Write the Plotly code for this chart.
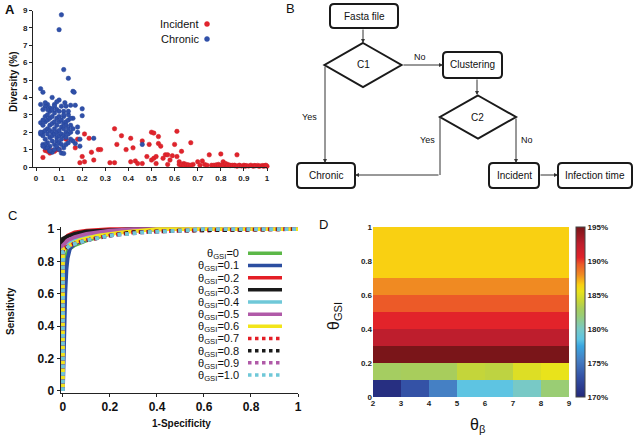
import plotly.graph_objects as go

W, H = 633, 436
FONT = "Liberation Sans"

# ---------------- Panel A data ----------------
chronic_x = [0.11,0.10,0.12,0.14,0.02,0.03,0.16,0.165,0.07,0.10,0.09,0.08,0.05,0.04,0.02,0.125,0.13,0.15,0.17,0.20,0.20,
             0.03,0.06,0.12,0.14,0.16,0.18,0.18,0.25,0.19,0.17,0.19,0.16,0.11,0.12,0.07,0.06,0.03,0.04,0.46,
             0.02,0.03,0.03,0.03,0.04,0.04,0.04,0.04,0.05,0.05,0.05,0.05,0.05,0.06,0.06,0.06,0.06,0.06,0.07,0.07,0.07,
             0.07,0.07,0.08,0.08,0.08,0.08,0.08,0.09,0.09,0.09,0.09,0.09,0.10,0.10,0.10,0.10,0.10,0.11,0.11,0.11,0.11,
             0.12,0.12,0.12,0.12,0.13,0.13,0.13,0.13,0.14,0.14,0.14,0.15,0.15,0.15,0.16,0.15,0.02,0.02,0.03,0.04,0.05,
             0.06,0.08,0.09,0.10,0.11,0.12,0.13,0.14,0.03,0.06,0.07,0.09,0.11,0.12,0.14,0.08,0.10,0.05,0.04]
chronic_y = [8.75,7.9,5.6,5.1,4.5,4.3,4.35,4.3,4.0,3.85,3.75,3.6,3.6,3.5,3.6,3.7,3.5,3.55,3.55,3.35,2.95,
             3.3,3.2,3.2,3.0,2.8,2.3,2.0,1.65,1.6,1.35,1.2,1.5,0.8,0.78,0.85,0.9,1.3,1.1,1.3,
             2.55,2.0,2.4,1.8,2.6,2.1,1.6,2.9,2.2,1.9,2.7,1.4,3.0,2.4,1.7,2.1,2.8,1.2,2.0,2.5,1.5,
             2.9,1.8,2.2,2.6,1.9,1.3,3.1,2.0,2.4,1.7,2.8,1.5,2.1,2.6,1.8,2.9,1.4,2.3,1.9,2.7,1.6,
             2.2,2.5,1.8,2.9,2.0,2.6,1.7,2.4,2.2,1.9,2.7,2.4,2.0,2.8,2.2,1.6,1.9,2.0,2.7,1.3,1.1,
             0.95,1.0,1.2,1.0,1.3,1.1,1.3,1.4,1.2,3.4,3.3,3.3,3.5,3.0,3.2,3.5,3.2,3.3,3.7]

incident_x = [0.03,0.04,0.05,0.06,0.07,0.08,0.09,0.10,0.13,0.17,0.18,0.19,0.20,0.21,0.21,0.23,0.24,0.25,0.27,0.28,
              0.32,0.34,0.34,0.35,0.37,0.39,0.41,0.41,0.42,0.43,0.44,0.46,0.46,0.48,0.49,0.50,0.50,0.51,0.51,0.52,
              0.52,0.53,0.53,0.54,0.55,0.56,0.57,0.57,0.58,0.59,0.60,0.61,0.61,0.62,0.62,0.63,0.63,0.64,0.65,0.66,
              0.67,0.68,0.70,0.71,0.72,0.73,0.74,0.75,0.76,0.78,0.79,0.80,0.81,0.82,0.83,0.84,0.86,0.87,0.88,
              0.63,0.64,0.65,0.66,0.67,0.77,0.78,0.79,0.80,0.81,0.82,0.83,0.84,0.85,
              0.86,0.87,0.88,0.89,0.90,0.905,0.91,0.92,0.93,0.94,0.945,0.95,0.96,0.965,0.97,0.98,0.985,0.99,1.0,0.995]
incident_y = [0.55,0.95,0.9,0.8,0.95,0.9,1.0,1.0,1.6,1.1,1.6,0.25,0.6,1.9,0.3,1.65,0.85,0.4,1.0,1.0,
              0.25,0.25,2.2,1.3,1.8,1.0,0.3,1.65,1.1,0.35,0.2,0.2,1.5,0.6,1.3,2.0,0.4,1.95,0.5,0.2,
              0.6,1.75,1.35,1.2,0.5,0.7,0.15,0.7,0.4,0.65,1.3,2.05,0.6,0.3,0.15,0.9,0.1,0.2,0.1,0.1,
              1.4,0.15,0.3,0.1,0.35,0.15,0.1,0.7,0.1,0.1,0.15,0.75,0.3,0.1,0.15,0.1,0.1,0.7,0.1,
              0.15,0.1,0.15,0.12,0.1,0.1,0.12,0.1,0.1,0.12,0.2,0.1,0.08,0.1,
              0.08,0.05,0.08,0.06,0.1,0.05,0.08,0.06,0.1,0.05,0.08,0.07,0.09,0.05,0.06,0.08,0.05,0.07,0.05,0.1]

a_xticks = [0, 0.1, 0.2, 0.3, 0.4, 0.5, 0.6, 0.7, 0.8, 0.9, 1]
a_xticklabels = ["0", "0.1", "0.2", "0.3", "0.4", "0.5", "0.6", "0.7", "0.8", "0.9", "1"]
a_yticks = [0, 1, 2, 3, 4, 5, 6, 7, 8, 9]

# ---------------- Panel C data ----------------
roc_labels = ["0", "0.1", "0.2", "0.3", "0.4", "0.5", "0.6", "0.7", "0.8", "0.9", "1.0"]
roc_fpr = [
    [0, 0, 0.003, 0.01, 0.02, 0.05, 0.1, 0.2, 0.3, 0.45, 1],
    [0, 0.005, 0.01, 0.015, 0.02, 0.03, 0.05, 0.1, 0.2, 0.3, 0.4, 1],
    [0, 0, 0.02, 0.05, 0.1, 0.2, 1],
    [0, 0, 0.02, 0.05, 0.1, 0.2, 0.3, 1],
    [0, 0, 0.02, 0.05, 0.1, 0.2, 0.4, 1],
    [0, 0, 0.02, 0.05, 0.1, 0.2, 0.3, 1],
    [0, 0, 0.03, 0.07, 0.15, 0.25, 0.4, 1],
    [0, 0, 0.05, 0.1, 0.2, 0.3, 0.5, 1],
    [0, 0, 0.04, 0.1, 0.2, 0.3, 0.5, 1],
    [0, 0, 0.03, 0.1, 0.2, 0.35, 0.5, 0.6, 1],
    [0, 0, 0.03, 0.1, 0.2, 0.35, 0.5, 0.6, 1],
]
roc_tpr = [
    [0, 0.3, 0.6, 0.8, 0.87, 0.9, 0.93, 0.97, 0.99, 1, 1],
    [0, 0.35, 0.6, 0.75, 0.82, 0.88, 0.91, 0.94, 0.98, 0.995, 1, 1],
    [0, 0.93, 0.96, 0.98, 0.99, 1, 1],
    [0, 0.94, 0.955, 0.97, 0.985, 0.995, 1, 1],
    [0, 0.88, 0.91, 0.94, 0.96, 0.98, 1, 1],
    [0, 0.9, 0.93, 0.95, 0.97, 0.99, 1, 1],
    [0, 0.87, 0.9, 0.93, 0.96, 0.98, 1, 1],
    [0, 0.88, 0.91, 0.93, 0.96, 0.98, 0.99, 1],
    [0, 0.87, 0.905, 0.93, 0.96, 0.98, 0.99, 1],
    [0, 0.86, 0.9, 0.93, 0.96, 0.98, 0.99, 1.0, 1],
    [0, 0.86, 0.9, 0.93, 0.96, 0.98, 0.99, 1.0, 1],
]
roc_colors = ["#5cb848", "#2c4ea0", "#e41e26", "#1a1a1a", "#6fc8d8", "#b05aa8",
              "#f2e51a", "#e41e26", "#1a1a1a", "#b05aa8", "#6fc8d8"]
roc_dash = ["solid"] * 7 + ["dot"] * 4
c_ticks = [0, 0.2, 0.4, 0.6, 0.8, 1]
c_ticklabels = ["0", "0.2", "0.4", "0.6", "0.8", "1"]

# ---------------- Panel D data ----------------
d_x = [2.5, 3.5, 4.5, 5.5, 6.5, 7.5, 8.5]
d_y = [0.05, 0.15, 0.25, 0.35, 0.45, 0.55, 0.65, 0.75, 0.85, 0.95]
d_z = [
    [170.5, 173.0, 175.5, 178.5, 178.5, 180.0, 182.0],
    [182.8, 183.0, 183.0, 184.0, 183.8, 185.0, 185.5],
    [195.0] * 7,
    [192.5] * 7,
    [190.5] * 7,
    [189.5] * 7,
    [188.0] * 7,
    [186.5] * 7,
    [186.5] * 7,
    [186.5] * 7,
]
d_xticks = [2, 3, 4, 5, 6, 7, 8, 9]
d_yticks = [0, 0.2, 0.4, 0.6, 0.8, 1]
d_cbticks = [170, 175, 180, 185, 190, 195]
d_cblabels = ["170%", "175%", "180%", "185%", "190%", "195%"]

colorscale = [[0, "#24287a"], [0.12, "#3452a6"], [0.22, "#4580c4"], [0.30, "#3aa6e0"],
              [0.34, "#5ec4e2"], [0.40, "#78c9c6"], [0.48, "#9acd74"], [0.52, "#a8cd5c"],
              [0.56, "#c4d53a"], [0.62, "#e9e31b"], [0.66, "#f9d012"], [0.72, "#f08a22"],
              [0.78, "#ec5a28"], [0.82, "#e2232a"], [0.90, "#be1e2d"], [1.0, "#7a1519"]]


def PX(x):
    return x / W


def PY(y):
    return 1 - y / H


fig = go.Figure()

# Panel A
fig.add_trace(go.Scatter(x=incident_x, y=incident_y, mode="markers", cliponaxis=False,
                         marker=dict(color="#e0242c", size=4.5, line=dict(color="#d01c24", width=0.5)),
                         xaxis="x", yaxis="y", showlegend=False))
fig.add_trace(go.Scatter(x=chronic_x, y=chronic_y, mode="markers", cliponaxis=False,
                         marker=dict(color="#3050a8", size=4.5, line=dict(color="#25449a", width=0.5)),
                         xaxis="x", yaxis="y", showlegend=False))

# Panel C
for i in range(len(roc_labels)):
    fig.add_trace(go.Scatter(x=roc_fpr[i], y=roc_tpr[i], mode="lines",
                             line=dict(color=roc_colors[i], width=3.8, dash=roc_dash[i]),
                             xaxis="x2", yaxis="y2", showlegend=False))

# Panel D
fig.add_trace(go.Heatmap(x=d_x, y=d_y, z=d_z, zmin=170, zmax=195, colorscale=colorscale,
                         xaxis="x3", yaxis="y3", showscale=True,
                         colorbar=dict(x=PX(576), xanchor="left", y=PY(397), yanchor="bottom",
                                       len=170 / H, lenmode="fraction", thickness=9,
                                       outlinewidth=1, outlinecolor="#444", xpad=0, ypad=0,
                                       tickvals=d_cbticks, ticktext=d_cblabels, ticks="",
                                       tickfont=dict(family=FONT, size=8, color="#222", weight="bold"))))

tickfont_small = dict(family=FONT, size=8, color="#222", weight="bold")
tickfont_c = dict(family=FONT, size=12, color="#111", weight="bold")

shapes = []
annotations = []


def ann(x, y, text, size=10, xanchor="center", yanchor="middle", **kw):
    font = dict(family=FONT, size=size, color="#111")
    font.update(kw.pop("font", {}))
    d = dict(x=PX(x), y=PY(y), xref="paper", yref="paper", text=text, showarrow=False,
             xanchor=xanchor, yanchor=yanchor, font=font)
    d.update(kw)
    annotations.append(d)


# ---------- Flowchart (Panel B) ----------
def rrect(x0, y0, x1, y1, r=4):
    pts = [("M", x0 + r, y0), ("L", x1 - r, y0), ("Q", x1, y0, x1, y0 + r), ("L", x1, y1 - r),
           ("Q", x1, y1, x1 - r, y1), ("L", x0 + r, y1), ("Q", x0, y1, x0, y1 - r),
           ("L", x0, y0 + r), ("Q", x0, y0, x0 + r, y0)]
    s = ""
    for p in pts:
        if p[0] == "Q":
            s += f"Q{PX(p[1])},{PY(p[2])} {PX(p[3])},{PY(p[4])} "
        else:
            s += f"{p[0]}{PX(p[1])},{PY(p[2])} "
    return s + "Z"


def diamond(cx, cy, hw, hh):
    return (f"M{PX(cx)},{PY(cy - hh)} L{PX(cx + hw)},{PY(cy)} L{PX(cx)},{PY(cy + hh)} "
            f"L{PX(cx - hw)},{PY(cy)} Z")


boxes = [("Fasta file", 330, 4, 398, 28), ("Clustering", 443, 52, 502, 78),
         ("Chronic", 297, 163, 355, 188), ("Incident", 489, 163, 539, 188),
         ("Infection time", 558, 163, 632, 188)]
for txt, x0, y0, x1, y1 in boxes:
    shapes.append(dict(type="path", xref="paper", yref="paper", path=rrect(x0, y0, x1, y1),
                       line=dict(color="#1a1a1a", width=2), fillcolor="white"))
    ann((x0 + x1) / 2, (y0 + y1) / 2, txt, size=10)

for txt, cx, cy, hw, hh in [("C1", 363, 65, 38.5, 22), ("C2", 478, 117, 38, 21.5)]:
    shapes.append(dict(type="path", xref="paper", yref="paper", path=diamond(cx, cy, hw, hh),
                       line=dict(color="#1a1a1a", width=2), fillcolor="white"))
    ann(cx, cy, txt, size=10)

# plain line segment
shapes.append(dict(type="line", xref="paper", yref="paper", x0=PX(440), y0=PY(117), x1=PX(440), y1=PY(175),
                   line=dict(color="#333", width=1)))

arrows = [((363, 28), (363, 43)), ((402, 65), (443, 65)), ((477, 78), (477, 95)),
          ((325, 65), (325, 163)), ((440, 175), (355, 175)), ((516, 117), (516, 163)),
          ((539, 175), (558, 175))]
for (tx, ty), (hx, hy) in arrows:
    annotations.append(dict(x=PX(hx), y=PY(hy), xref="paper", yref="paper", ax=tx - hx, ay=ty - hy,
                            text="", showarrow=True, arrowhead=2, arrowsize=0.8, arrowwidth=1,
                            arrowcolor="#333", standoff=0, startstandoff=0))

for txt, x, y in [("No", 420, 57), ("Yes", 309, 117), ("Yes", 428, 140), ("No", 527, 140)]:
    ann(x, y, txt, size=9)

# ---------- Panel labels ----------
ann(10, 9, "A", size=13, font=dict(weight="bold"))
ann(290, 8, "B", size=13)
ann(12, 215, "C", size=13)
ann(323, 225, "D", size=13)

# ---------- Panel A legend ----------
for txt, col, y in [("Incident", "#e0242c", 24), ("Chronic", "#3050a8", 39)]:
    ann(201, y, txt, size=11, xanchor="right")
    shapes.append(dict(type="circle", xref="paper", yref="paper", x0=PX(204.5), x1=PX(209.5),
                       y0=PY(y + 2.5), y1=PY(y - 2.5), fillcolor=col, line=dict(color=col, width=0.5)))

# Panel A y title
ann(14, 82, "Diversity (%)", size=10, textangle=-90, font=dict(weight="bold"))

# ---------- Panel C legend ----------
for i, lab in enumerate(roc_labels):
    y = 253.3 + i * 12.17
    ann(241, y + 1, f"θ<sub>GSI</sub>={lab}", size=11, xanchor="right")
    shapes.append(dict(type="line", xref="paper", yref="paper", x0=PX(248), x1=PX(282), y0=PY(y), y1=PY(y),
                       line=dict(color=roc_colors[i], width=3.5, dash=roc_dash[i])))

# ---------- Axis titles (C, D) ----------
ann(10, 311, "Sensitivty", size=10, textangle=-90, font=dict(weight="bold"))
ann(181, 423, "1-Specificity", size=10, font=dict(weight="bold"))
ann(334, 316, "θ<sub>GSI</sub>", size=16, textangle=-90)
ann(478, 425, "θ<sub>β</sub>", size=16)

# Axis ranges / domains
ax_line = dict(showline=True, linecolor="#222", linewidth=1, showgrid=False, zeroline=False,
               ticks="outside", ticklen=3, tickcolor="#222")

fig.update_layout(
    width=W, height=H, margin=dict(l=0, r=0, t=0, b=0, autoexpand=False),
    paper_bgcolor="white", plot_bgcolor="white",
    font=dict(family=FONT, color="#111"),
    shapes=shapes, annotations=annotations,
    xaxis=dict(domain=[PX(33), PX(267)], range=[-0.013, 1.0], anchor="y",
               tickvals=a_xticks, ticktext=a_xticklabels, tickfont=tickfont_small, **ax_line),
    yaxis=dict(domain=[PY(167), PY(10.5)], range=[0, 9], anchor="x",
               tickvals=a_yticks, tickfont=tickfont_small, **ax_line),
    xaxis2=dict(domain=[PX(60.6), PX(298)], range=[-0.01, 1.0], anchor="y2",
                tickvals=c_ticks, ticktext=c_ticklabels, tickfont=tickfont_c, **ax_line),
    yaxis2=dict(domain=[PY(392.6), PY(226.6)], range=[-0.01, 1.015], anchor="x2",
                tickvals=c_ticks, ticktext=c_ticklabels, tickfont=tickfont_c, **ax_line),
    xaxis3=dict(domain=[PX(373), PX(569)], range=[2, 9], anchor="y3", showgrid=False, zeroline=False,
                showline=False, ticks="", tickvals=d_xticks, tickfont=tickfont_small),
    yaxis3=dict(domain=[PY(397), PY(227)], range=[0, 1], anchor="x3", showgrid=False, zeroline=False,
                showline=False, ticks="", tickvals=d_yticks, ticktext=["0", "0.2", "0.4", "0.6", "0.8", "1"],
                tickfont=tickfont_small),
)

fig.write_html("out.html", config={"displayModeBar": False},
               post_script="document.body.style.margin='0px';document.body.style.overflow='hidden';")
